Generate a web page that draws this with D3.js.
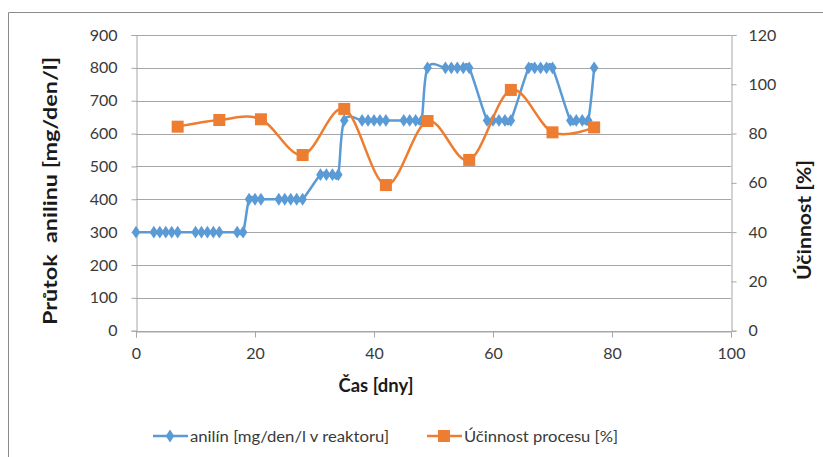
<!DOCTYPE html>
<html>
<head>
<meta charset="utf-8">
<script src="https://cdn.jsdelivr.net/npm/d3@7"></script>
<style>
  html, body { margin: 0; padding: 0; background: #fff; }
  svg { display: block; font-family: Lato, "Open Sans", sans-serif; }
</style>
</head>
<body>
<svg id="chart" width="823" height="457"></svg>
<script>
// Aniline feed (left axis) sampled by day
const anilineDays = [0, 3, 4, 5, 6, 7, 10, 11, 12, 13, 14, 17, 18,
  19, 20, 21, 24, 25, 26, 27, 28,
  31, 32, 33, 34,
  35, 38, 39, 40, 41, 42, 45, 46, 47, 48,
  49, 52, 53, 54, 55, 56,
  59, 60, 61, 62, 63,
  66, 67, 68, 69, 70,
  73, 74, 75, 76,
  77];
const anilineValues = [300, 300, 300, 300, 300, 300, 300, 300, 300, 300, 300, 300, 300,
  400, 400, 400, 400, 400, 400, 400, 400,
  475, 475, 475, 475,
  640, 640, 640, 640, 640, 640, 640, 640, 640, 640,
  800, 800, 800, 800, 800, 800,
  640, 640, 640, 640, 640,
  800, 800, 800, 800, 800,
  640, 640, 640, 640,
  800];

// Process efficiency (right axis), weekly
const efficiencyDays = [7, 14, 21, 28, 35, 42, 49, 56, 63, 70, 77];
const efficiencyValues = [82.8, 85.5, 85.8, 71.3, 90, 59.1, 85.1, 69.3, 97.7, 80.5, 82.5];

// Axis ticks and labels
const xTicks = [0, 20, 40, 60, 80, 100];
const leftTicks = [0, 100, 200, 300, 400, 500, 600, 700, 800, 900];
const rightTicks = [0, 20, 40, 60, 80, 100, 120];
const seriesNames = ["anilín [mg/den/l v reaktoru]", "Účinnost procesu [%]"];
const leftTitle = "Průtok  anilinu [mg/den/l]";
const rightTitle = "Účinnost [%]";
const xTitle = "Čas [dny]";

const blue = "#5b9bd5", orange = "#ed7d31";
const gridColor = "#a6a6a6", textColor = "#3a3a3a";

const svg = d3.select("#chart");
const plot = { left: 136, right: 731, top: 35, bottom: 330.7 };

const x = d3.scaleLinear().domain([0, 100]).range([plot.left, plot.right]);
const yL = d3.scaleLinear().domain([0, 900]).range([plot.bottom, plot.top]);
const yR = d3.scaleLinear().domain([0, 120]).range([plot.bottom, plot.top]);

// chart frame (left and top edges)
svg.append("path")
  .attr("d", "M8.5,457 L8.5,12.5 L823,12.5")
  .attr("fill", "none").attr("stroke", "#8c8c8c").attr("stroke-width", 1);

// horizontal gridlines from the left axis
svg.append("g").selectAll("line").data(leftTicks).join("line")
  .attr("x1", plot.left).attr("x2", plot.right)
  .attr("y1", d => Math.round(yL(d)) + 0.5).attr("y2", d => Math.round(yL(d)) + 0.5)
  .attr("stroke", gridColor).attr("stroke-width", 1);

// left axis
const gL = svg.append("g").attr("transform", `translate(${plot.left + 0.5},0)`)
  .call(d3.axisLeft(yL).tickValues(leftTicks).tickSize(5).tickPadding(14).tickFormat(d3.format("d")));
// right axis
const gR = svg.append("g").attr("transform", `translate(${plot.right + 0.5},0)`)
  .call(d3.axisRight(yR).tickValues(rightTicks).tickSize(5).tickPadding(12).tickFormat(d3.format("d")));
// bottom axis
const gB = svg.append("g").attr("transform", `translate(0,${Math.round(plot.bottom) + 0.5})`)
  .call(d3.axisBottom(x).tickValues(xTicks).tickSize(6).tickPadding(10).tickFormat(d3.format("d")));

[gL, gR, gB].forEach(g => {
  g.select(".domain").attr("stroke", gridColor);
  g.selectAll(".tick line").attr("stroke", gridColor);
  g.selectAll(".tick text").attr("fill", textColor).style("font-size", "16px")
    .style("font-family", "Lato, 'Open Sans', sans-serif");
});
gB.selectAll(".tick text").attr("dy", "0.71em");

// axis titles
svg.append("text")
  .attr("transform", `translate(57,191) rotate(-90)`)
  .attr("text-anchor", "middle")
  .style("white-space", "pre")
  .style("font-size", "18px").style("font-weight", "bold").attr("fill", "#1a1a1a")
  .attr("textLength", 268).attr("lengthAdjust", "spacingAndGlyphs")
  .text(leftTitle);

svg.append("text")
  .attr("transform", `translate(811,220) rotate(-90)`)
  .attr("text-anchor", "middle")
  .style("font-size", "18px").style("font-weight", "bold").attr("fill", "#1a1a1a")
  .attr("textLength", 120).attr("lengthAdjust", "spacingAndGlyphs")
  .text(rightTitle);

svg.append("text")
  .attr("x", 376).attr("y", 392)
  .attr("text-anchor", "middle")
  .style("font-size", "18px").style("font-weight", "bold").attr("fill", "#1a1a1a")
  .attr("textLength", 75).attr("lengthAdjust", "spacingAndGlyphs")
  .text(xTitle);

// series
const anilinePts = anilineDays.map((d, i) => [d, anilineValues[i]]);
const effPts = efficiencyDays.map((d, i) => [d, efficiencyValues[i]]);

const lineL = d3.line().x(d => x(d[0])).y(d => yL(d[1])).curve(d3.curveCardinal.tension(0));
const lineR = d3.line().x(d => x(d[0])).y(d => yR(d[1])).curve(d3.curveCardinal.tension(0));

const diamond = d3.symbol().type(d3.symbolDiamond).size(48);

svg.append("path").datum(anilinePts)
  .attr("d", lineL).attr("fill", "none")
  .attr("stroke", blue).attr("stroke-width", 2.5).attr("stroke-linejoin", "round");
svg.append("g").selectAll("path").data(anilinePts).join("path")
  .attr("d", diamond)
  .attr("transform", d => `translate(${x(d[0])},${yL(d[1])}) scale(1.15,1)`)
  .attr("fill", blue);

svg.append("path").datum(effPts)
  .attr("d", lineR).attr("fill", "none")
  .attr("stroke", orange).attr("stroke-width", 2.5).attr("stroke-linejoin", "round");
svg.append("g").selectAll("rect").data(effPts).join("rect")
  .attr("x", d => x(d[0]) - 6).attr("y", d => yR(d[1]) - 6)
  .attr("width", 12).attr("height", 12)
  .attr("fill", orange);

// legend
const legend = svg.append("g");
const legY = 436;
// aniline entry
legend.append("line").attr("x1", 153).attr("x2", 188).attr("y1", legY).attr("y2", legY)
  .attr("stroke", blue).attr("stroke-width", 2.5);
legend.append("path").attr("d", diamond)
  .attr("transform", `translate(170,${legY}) scale(1.15,1)`).attr("fill", blue);
legend.append("text").attr("x", 190).attr("y", legY + 5.5)
  .style("font-size", "15.5px").attr("fill", textColor)
  .attr("textLength", 199).attr("lengthAdjust", "spacingAndGlyphs")
  .text(seriesNames[0]);
// efficiency entry
legend.append("line").attr("x1", 427).attr("x2", 462).attr("y1", legY).attr("y2", legY)
  .attr("stroke", orange).attr("stroke-width", 2.5);
legend.append("rect").attr("x", 438).attr("y", legY - 6).attr("width", 12).attr("height", 12)
  .attr("fill", orange);
legend.append("text").attr("x", 464).attr("y", legY + 5.5)
  .style("font-size", "15.5px").attr("fill", textColor)
  .attr("textLength", 154).attr("lengthAdjust", "spacingAndGlyphs")
  .text(seriesNames[1]);
</script>
</body>
</html>
